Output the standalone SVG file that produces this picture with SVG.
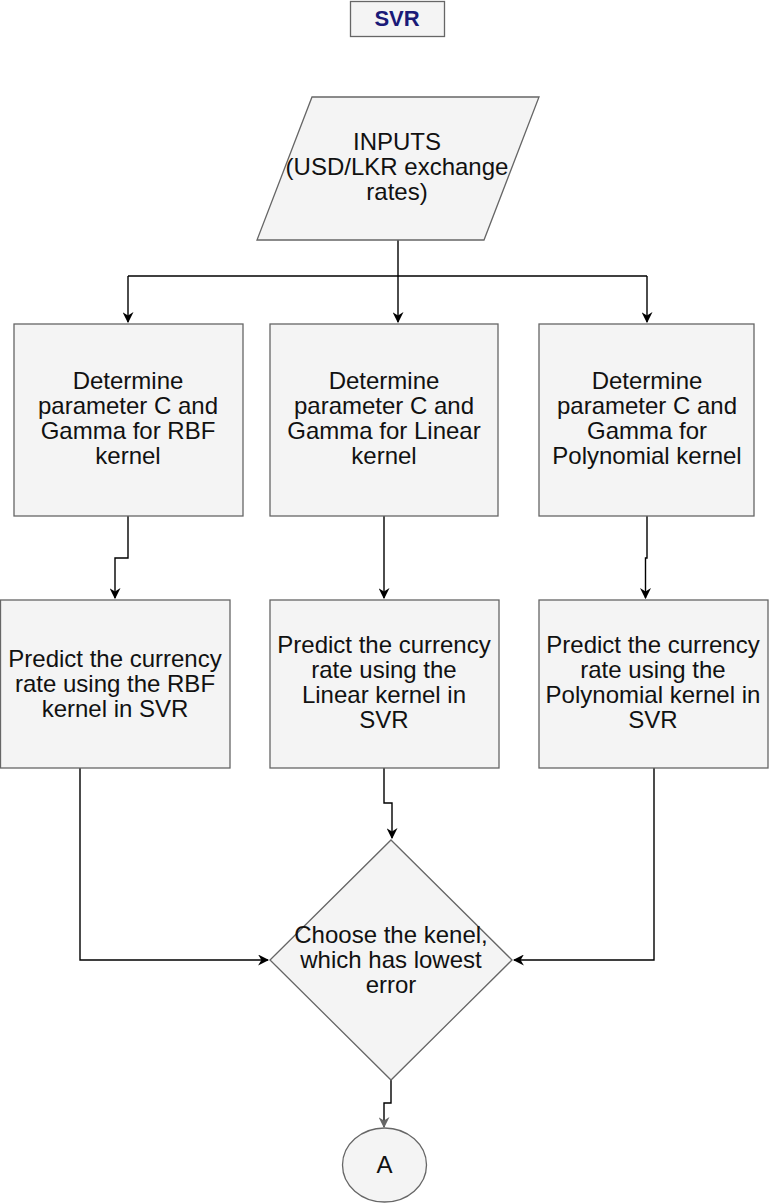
<svg xmlns="http://www.w3.org/2000/svg" width="769" height="1203" viewBox="0 0 769 1203">
<defs>
<style>
.n{fill:#f4f4f4;stroke:#666;stroke-width:1.3}
.t{font-family:"Liberation Sans",Arial,sans-serif;font-size:24px;fill:#111;text-anchor:middle}
.c{fill:none;stroke:#000;stroke-width:1.4}
</style>
<marker id="ar" viewBox="0 0 10 10" refX="9" refY="5" markerWidth="11" markerHeight="11" markerUnits="userSpaceOnUse" orient="auto">
<path d="M0,0 L10,5 L0,10 L3,5 z" fill="#000"/>
</marker>
<marker id="arg" viewBox="0 0 10 10" refX="9" refY="5" markerWidth="11" markerHeight="11" markerUnits="userSpaceOnUse" orient="auto">
<path d="M0,0 L10,5 L0,10 L3,5 z" fill="#666"/>
</marker>
</defs>
<rect width="769" height="1203" fill="#fff"/>
<g id="title">
<rect x="350.5" y="1.5" width="94" height="35" class="n"/>
<text x="397" y="26" font-family="'Liberation Sans',Arial,sans-serif" font-size="22" font-weight="bold" fill="#1a1a78" text-anchor="middle">SVR</text>
</g>
<g id="connectors">
<path class="c" d="M398,240 V322" marker-end="url(#ar)" stroke-width="2"/>
<path class="c" d="M128,276 H647"/>
<path class="c" d="M128,276 V322" marker-end="url(#ar)"/>
<path class="c" d="M647,276 V322" marker-end="url(#ar)"/>
<path class="c" d="M128,516 V558 H115 V598" marker-end="url(#ar)"/>
<path class="c" d="M384,516 V598" marker-end="url(#ar)"/>
<path class="c" d="M647,516 V558 H645.5 V598" marker-end="url(#ar)"/>
<path class="c" d="M384,768 V803 H392 V838" marker-end="url(#ar)"/>
<path class="c" d="M80,768 V960 H268" marker-end="url(#ar)"/>
<path class="c" d="M654,768 V960 H514" marker-end="url(#ar)"/>
<path class="c" d="M391,1080 V1103 H384 V1127" marker-end="url(#arg)" stroke="#666"/>
</g>
<g id="inputs">
<polygon points="312,97 539,97 484,240 257,240" class="n"/>
<text class="t"><tspan x="397" y="150">INPUTS</tspan><tspan x="397" y="175">(USD/LKR exchange</tspan><tspan x="397" y="200">rates)</tspan></text>
</g>
<g id="det-rbf">
<rect x="14" y="324" width="229" height="192" class="n"/>
<text class="t"><tspan x="128" y="389">Determine</tspan><tspan x="128" y="414">parameter C and</tspan><tspan x="128" y="439">Gamma for RBF</tspan><tspan x="128" y="464">kernel</tspan></text>
</g>
<g id="det-linear">
<rect x="270" y="324" width="228" height="192" class="n"/>
<text class="t"><tspan x="384" y="389">Determine</tspan><tspan x="384" y="414">parameter C and</tspan><tspan x="384" y="439">Gamma for Linear</tspan><tspan x="384" y="464">kernel</tspan></text>
</g>
<g id="det-poly">
<rect x="539" y="324" width="215" height="192" class="n"/>
<text class="t"><tspan x="647" y="389">Determine</tspan><tspan x="647" y="414">parameter C and</tspan><tspan x="647" y="439">Gamma for</tspan><tspan x="647" y="464">Polynomial kernel</tspan></text>
</g>
<g id="pred-rbf">
<rect x="0.5" y="600" width="229.5" height="168" class="n"/>
<text class="t"><tspan x="115" y="667">Predict the currency</tspan><tspan x="115" y="692">rate using the RBF</tspan><tspan x="115" y="717">kernel in SVR</tspan></text>
</g>
<g id="pred-linear">
<rect x="270" y="600" width="229" height="168" class="n"/>
<text class="t"><tspan x="384" y="653">Predict the currency</tspan><tspan x="384" y="678">rate using the</tspan><tspan x="384" y="703">Linear kernel in</tspan><tspan x="384" y="728">SVR</tspan></text>
</g>
<g id="pred-poly">
<rect x="539" y="600" width="229" height="168" class="n"/>
<text class="t"><tspan x="653" y="653">Predict the currency</tspan><tspan x="653" y="678">rate using the</tspan><tspan x="653" y="703">Polynomial kernel in</tspan><tspan x="653" y="728">SVR</tspan></text>
</g>
<g id="choose">
<polygon points="391,840 512,960 391,1080 270,960" class="n"/>
<text class="t"><tspan x="391" y="943">Choose the kenel,</tspan><tspan x="391" y="968">which has lowest</tspan><tspan x="391" y="993">error</tspan></text>
</g>
<g id="a">
<ellipse cx="384.5" cy="1165" rx="42" ry="37" class="n"/>
<text class="t" x="384.5" y="1173">A</text>
</g>
</svg>
